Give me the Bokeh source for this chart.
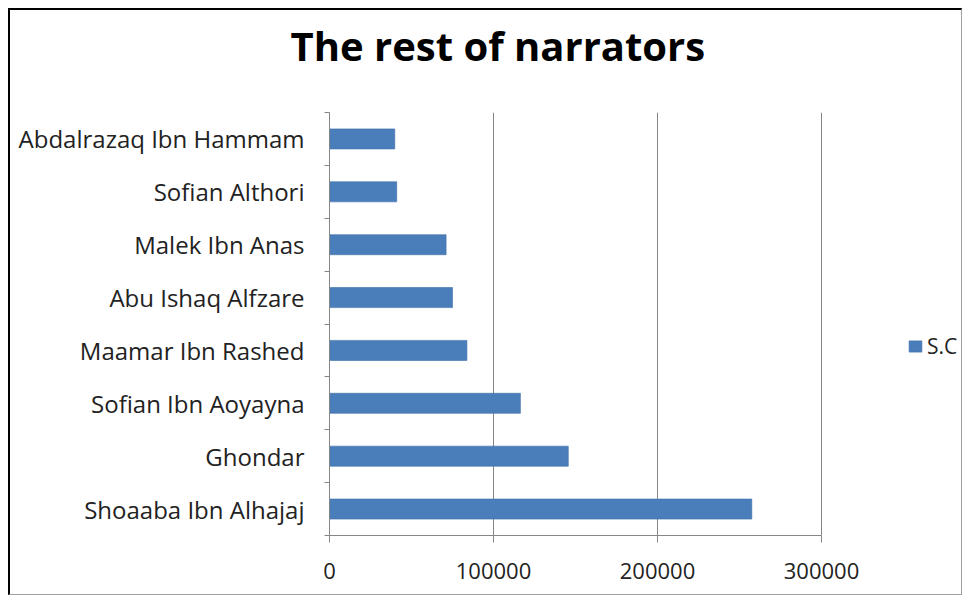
from bokeh.plotting import figure
from bokeh.models import (Range1d, FixedTicker, LinearAxis, Title, Legend, LegendItem,
                          ColumnDataSource, NumeralTickFormatter)
from bokeh.embed import file_html
from bokeh.resources import INLINE

# ---- data (bottom to top) ----
narrators = ["Shoaaba Ibn Alhajaj", "Ghondar", "Sofian Ibn Aoyayna", "Maamar Ibn Rashed",
             "Abu Ishaq Alfzare", "Malek Ibn Anas", "Sofian Althori", "Abdalrazaq Ibn Hammam"]
sc_values = [257500, 145600, 116400, 83800, 75000, 71100, 41000, 39800]
x_ticks = [0, 100000, 200000, 300000]
series_name = "S.C"
title_text = "The rest of narrators"

FONT = "Open Sans"
BLUE = "#4A7EBB"
GRID = "#868686"

# frame spans to the right edge so the legend can sit inside it;
# the axis itself is bounded to 0..300000
AXIS_MAX = 300000
FRAME_PX = 635
AXIS_PX = 492
x_end = AXIS_MAX * FRAME_PX / AXIS_PX

ypos = [i + 0.5 for i in range(len(narrators))]
src = ColumnDataSource(dict(y=ypos, v=sc_values, name=narrators))

p = figure(width=954, height=587, output_backend="svg", toolbar_location=None,
           x_range=Range1d(0, x_end), y_range=Range1d(0, len(narrators)),
           min_border_left=319, min_border_right=0, min_border_top=102, min_border_bottom=62)
p.margin = (8, 0, 0, 8)
p.styles = {"border-top": "2px solid #000", "border-left": "2px solid #000",
            "border-right": "1px solid #a0a0a0", "border-bottom": "1px solid #a0a0a0"}
p.outline_line_color = None
p.background_fill_color = "white"
p.border_fill_color = "white"

r = p.hbar(y="y", right="v", left=0, height=0.38, source=src,
           fill_color=BLUE, line_color="#3F6FA8", line_width=0.6)

# x axis
xa = p.xaxis[0]
xa.ticker = FixedTicker(ticks=x_ticks)
xa.bounds = (0, AXIS_MAX)
xa.formatter = NumeralTickFormatter(format="0")
xa.axis_line_color = GRID
xa.major_tick_line_color = GRID
xa.major_tick_out = 7
xa.major_tick_in = 0
xa.minor_tick_line_color = None
xa.major_label_standoff = 20
xa.major_label_text_font = FONT
xa.major_label_text_font_size = "22px"
xa.major_label_text_color = "#222222"

# y axis: tick marks at category boundaries, no labels
ya = p.yaxis[0]
ya.ticker = FixedTicker(ticks=list(range(len(narrators) + 1)))
ya.major_label_overrides = {i: "" for i in range(len(narrators) + 1)}
ya.major_label_text_font_size = "1px"
ya.major_label_standoff = 0
ya.axis_line_color = GRID
ya.major_tick_line_color = GRID
ya.major_tick_out = 5
ya.major_tick_in = 0
ya.minor_tick_line_color = None

# y label axis: names at category centres
la = LinearAxis(ticker=FixedTicker(ticks=ypos),
                major_label_overrides={y: n for y, n in zip(ypos, narrators)})
la.axis_line_color = None
la.major_tick_line_color = None
la.minor_tick_line_color = None
la.major_label_standoff = 14
la.major_label_text_font = FONT
la.major_label_text_font_size = "24px"
la.major_label_text_color = "#222222"
p.add_layout(la, "left")

p.ygrid.grid_line_color = None
p.xgrid.ticker = FixedTicker(ticks=x_ticks[1:])
p.xgrid.grid_line_color = GRID
p.xgrid.grid_line_width = 1

# spacer between plot and title, then the title
spacer = Title(text=" ", text_font=FONT, text_font_size="24px", standoff=0)
p.add_layout(spacer, "above")
t = Title(text=title_text, align="left", offset=-39, text_font=FONT,
          text_font_style="bold", text_font_size="40px", text_color="black", standoff=10)
p.add_layout(t, "above")

# legend
leg = Legend(items=[LegendItem(label=series_name, renderers=[r])],
             location=(578, 175), padding=0, margin=0, border_line_color=None,
             background_fill_alpha=0, glyph_width=16, glyph_height=14, label_standoff=4,
             label_text_font=FONT, label_text_font_size="21px", label_text_color="#222222")
p.add_layout(leg)

open("out.html", "w").write(file_html(p, INLINE))
